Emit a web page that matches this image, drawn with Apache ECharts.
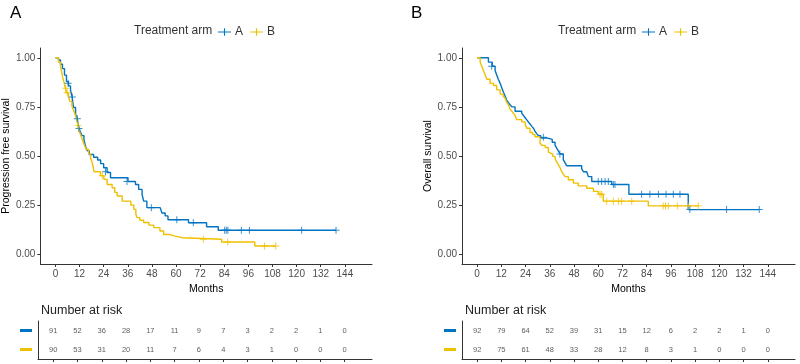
<!DOCTYPE html>
<html>
<head>
<meta charset="utf-8">
<script src="https://cdn.jsdelivr.net/npm/echarts@6/dist/echarts.min.js"></script>
<style>
    html, body { margin: 0; padding: 0; background: #fff; }
    #chart { width: 800px; height: 364px; }
</style>
</head>
<body>
<div id="chart"></div>
<script>
    // 月份刻度
    var monthTicks = [0, 12, 24, 36, 48, 60, 72, 84, 96, 108, 120, 132, 144];
    var survTicks = [0, 0.25, 0.5, 0.75, 1];

    // A: 无进展生存 [月, 生存率]
    var pfsArmA = [[0,1],[1.5,0.989],[2.5,0.967],[3.5,0.945],[4.5,0.912],[5.5,0.879],[6.5,0.857],[7.5,0.835],[8.3,0.80],[9,0.747],[10,0.714],[10.8,0.69],[11.5,0.648],[12.3,0.626],[13.2,0.604],[14.2,0.582],[15,0.549],[15.8,0.527],[16.8,0.508],[19,0.494],[21,0.48],[22.5,0.461],[24,0.44],[25.7,0.416],[27.4,0.389],[34.8,0.389],[36.1,0.37],[39.8,0.355],[41.4,0.33],[43.1,0.305],[43.9,0.27],[45.5,0.237],[52.1,0.237],[53,0.21],[54.6,0.195],[56,0.175],[66.2,0.16],[75.2,0.14],[81,0.122],[139.6,0.122]];
    var pfsArmB = [[0,1],[1.5,0.978],[2.5,0.956],[3,0.933],[3.6,0.9],[4.2,0.878],[5,0.845],[5.5,0.822],[6.5,0.8],[7.2,0.778],[8.2,0.755],[9,0.733],[9.8,0.711],[10.5,0.689],[11.2,0.656],[12,0.622],[12.8,0.6],[13.6,0.578],[14.4,0.556],[15.3,0.533],[16.5,0.511],[17.5,0.489],[18.3,0.467],[19.2,0.42],[22.4,0.40],[24.1,0.381],[25.7,0.355],[28.2,0.338],[29.5,0.315],[30.7,0.296],[33.2,0.27],[37.5,0.25],[39,0.228],[40,0.205],[40.6,0.186],[42,0.173],[43.9,0.161],[46.5,0.148],[48.9,0.135],[52,0.118],[53.8,0.10],[57,0.092],[59.6,0.084],[62.9,0.076],[82.7,0.062],[99.2,0.042],[109.6,0.042]];
    var pfsCensA = [[6.3,0.87],[8.4,0.80],[10.9,0.69],[11.7,0.64],[24.9,0.42],[35.6,0.37],[47.7,0.237],[60.4,0.175],[68.6,0.16],[84.2,0.122],[85,0.122],[85.8,0.122],[92.5,0.122],[96.5,0.122],[122.5,0.122],[139.6,0.122]];
    var pfsCensB = [[5.2,0.845],[5.9,0.822],[11.2,0.656],[23.3,0.40],[73.6,0.076],[85.7,0.062],[104,0.042],[109.6,0.042]];

    // B: 总生存
    var osArmA = [[0,1],[5.6,0.978],[7.5,0.957],[8.9,0.935],[9.7,0.913],[10.5,0.891],[11.4,0.87],[12.2,0.848],[13,0.826],[13.9,0.804],[14.7,0.783],[15.5,0.772],[16.3,0.761],[17.2,0.75],[18.8,0.728],[22.1,0.717],[23,0.706],[23.8,0.695],[24.6,0.684],[25.4,0.673],[26.3,0.662],[27.1,0.651],[28,0.64],[28.7,0.625],[29.5,0.614],[30.4,0.603],[31.5,0.592],[34.5,0.585],[37.2,0.57],[38.6,0.555],[39.4,0.54],[40.3,0.525],[41.1,0.51],[42.7,0.48],[43.6,0.465],[44.4,0.45],[51.8,0.436],[52.6,0.42],[54.3,0.41],[55.1,0.395],[56.8,0.37],[66.7,0.355],[75.2,0.305],[104.6,0.227],[139.8,0.227]];
    var osArmB = [[0,1],[1.5,0.978],[2.3,0.957],[3.1,0.935],[4,0.913],[4.8,0.891],[6.4,0.87],[8.1,0.859],[9.7,0.837],[11.4,0.815],[13,0.804],[13.9,0.793],[14.7,0.772],[15.5,0.761],[16.3,0.739],[17.2,0.728],[18,0.717],[18.8,0.706],[19.6,0.685],[22.1,0.674],[23.8,0.663],[24.6,0.641],[26.2,0.62],[27.5,0.609],[28.7,0.598],[31.2,0.565],[32,0.554],[33.7,0.543],[35.3,0.52],[36.1,0.51],[37.5,0.498],[38.6,0.487],[39.4,0.47],[40.3,0.455],[41.1,0.44],[41.9,0.421],[42.7,0.408],[43.6,0.395],[45.2,0.379],[47.7,0.362],[50.1,0.348],[54.3,0.336],[57.6,0.32],[60.1,0.305],[62.5,0.27],[84.8,0.246],[109.6,0.246]];
    var osCensA = [[7.2,0.957],[32.8,0.596],[41,0.51],[60,0.37],[61.7,0.37],[63.4,0.37],[65,0.37],[67.5,0.355],[68.3,0.355],[81.5,0.305],[85.6,0.305],[89.8,0.305],[93.6,0.305],[97.2,0.305],[100.5,0.305],[105.4,0.227],[123.6,0.227],[139.8,0.227]];
    var osCensB = [[60.9,0.305],[61.7,0.305],[64.2,0.27],[67.5,0.27],[70,0.27],[71.6,0.27],[76.6,0.27],[92.2,0.246],[93.3,0.246],[94.7,0.246],[99.2,0.246],[104.6,0.246],[109.6,0.246]];

    // 风险人数
    var pfsRiskA = [91, 52, 36, 28, 17, 11, 9, 7, 3, 2, 2, 1, 0];
    var pfsRiskB = [90, 53, 31, 20, 11, 7, 6, 4, 3, 1, 0, 0, 0];
    var osRiskA = [92, 79, 64, 52, 39, 31, 15, 12, 6, 2, 2, 1, 0];
    var osRiskB = [92, 75, 61, 48, 33, 28, 12, 8, 3, 1, 0, 0, 0];

    var colorA = '#0073C2';
    var colorB = '#EFC000';
    var font = 'Liberation Sans, Arial, sans-serif';
    var plusPath = 'path://M0,4.3 L10,4.3 L10,5.7 L0,5.7 Z M4.3,0 L5.7,0 L5.7,10 L4.3,10 Z';
    var legendPath = 'path://M0,4.4 L14,4.4 L14,5.6 L0,5.6 Z M6.4,1 L7.6,1 L7.6,9 L6.4,9 Z';

    var myChart = echarts.init(document.getElementById('chart'));

    function plotX(gridIndex, showLabel) {
        return {
            type: 'value', gridIndex: gridIndex, min: -7.5, max: 157.5,
            name: showLabel ? 'Months' : '', nameLocation: 'middle', nameGap: 18,
            nameTextStyle: { color: '#000', fontSize: 10.5, fontFamily: font },
            axisLine: { show: true, onZero: false, lineStyle: { color: '#333', width: 1 } },
            axisTick: { show: true, length: 3, customValues: monthTicks, lineStyle: { color: '#333' } },
            axisLabel: { show: showLabel, customValues: monthTicks, margin: 5, color: '#4d4d4d', fontSize: 10, fontFamily: font },
            splitLine: { show: false }
        };
    }

    function plotY(gridIndex, name) {
        return {
            type: 'value', gridIndex: gridIndex, min: -0.05, max: 1.05,
            name: name, nameLocation: 'middle', nameGap: 26,
            nameTextStyle: { color: '#000', fontSize: 10.5, fontFamily: font },
            axisLine: { show: true, onZero: false, lineStyle: { color: '#333', width: 1 } },
            axisTick: { show: true, length: 3, customValues: survTicks, lineStyle: { color: '#333' } },
            axisLabel: {
                customValues: survTicks, margin: 5, color: '#4d4d4d', fontSize: 10, fontFamily: font,
                formatter: function(v) { return v.toFixed(2); }
            },
            splitLine: { show: false }
        };
    }

    function riskY(gridIndex) {
        return {
            type: 'category', gridIndex: gridIndex, data: ['A', 'B'], inverse: true,
            axisLine: { show: true, onZero: false, lineStyle: { color: '#333', width: 1 } },
            axisTick: { show: false },
            axisLabel: {
                margin: 6,
                formatter: function(v) { return v === 'A' ? '{a|}' : '{b|}'; },
                rich: {
                    a: { backgroundColor: colorA, width: 12, height: 3 },
                    b: { backgroundColor: colorB, width: 12, height: 3 }
                }
            }
        };
    }

    function riskData(counts, row) {
        return counts.map(function(c, i) { return [monthTicks[i], row, c]; });
    }

    function curve(name, data, color, xi, yi) {
        return {
            name: name, type: 'line', step: 'end', data: data, xAxisIndex: xi, yAxisIndex: yi,
            showSymbol: false, color: color, lineStyle: { width: 1.4, color: color }, z: 3
        };
    }

    function censor(data, color, xi, yi) {
        return {
            name: 'censor', type: 'scatter', data: data, xAxisIndex: xi, yAxisIndex: yi,
            symbol: plusPath, symbolSize: 7, itemStyle: { color: color }, z: 4
        };
    }

    function riskSeries(counts, row, xi, yi) {
        return {
            name: 'risk', type: 'scatter', data: riskData(counts, row), xAxisIndex: xi, yAxisIndex: yi,
            symbolSize: 1, itemStyle: { color: 'transparent' },
            label: {
                show: true, position: 'inside', color: '#333', fontSize: 7.5, fontFamily: font,
                formatter: function(p) { return p.value[2]; }
            }
        };
    }

    var legendBase = {
        data: ['A', 'B'], top: 21, icon: legendPath, itemWidth: 13, itemHeight: 8, itemGap: 7,
        textStyle: { color: '#333', fontSize: 12, fontFamily: font, padding: [0, 0, 0, -1] },
        selectedMode: false
    };

    var option = {
        animation: false,
        textStyle: { fontFamily: font },
        title: [
            { text: 'A', left: 5, top: 0, textStyle: { fontSize: 17, fontWeight: 'normal', color: '#000', fontFamily: font } },
            { text: 'B', left: 406, top: 0, textStyle: { fontSize: 17, fontWeight: 'normal', color: '#000', fontFamily: font } },
            { text: 'Treatment arm', left: 129, top: 20, textStyle: { fontSize: 12, fontWeight: 'normal', color: '#333', fontFamily: font } },
            { text: 'Treatment arm', left: 553, top: 20, textStyle: { fontSize: 12, fontWeight: 'normal', color: '#333', fontFamily: font } },
            { text: 'Number at risk', left: 36, top: 299, textStyle: { fontSize: 12.5, fontWeight: 'normal', color: '#222', fontFamily: font } },
            { text: 'Number at risk', left: 460, top: 299, textStyle: { fontSize: 12.5, fontWeight: 'normal', color: '#222', fontFamily: font } }
        ],
        legend: [
            Object.assign({}, legendBase, { left: 213 }),
            Object.assign({}, legendBase, { left: 637 })
        ],
        grid: [
            { left: 38, top: 48, width: 334, height: 216 },
            { left: 38, top: 321, width: 334, height: 38 },
            { left: 462, top: 48, width: 333, height: 216 },
            { left: 462, top: 321, width: 333, height: 38 }
        ],
        xAxis: [plotX(0, true), plotX(1, false), plotX(2, true), plotX(3, false)],
        yAxis: [plotY(0, 'Progression free survival'), riskY(1), plotY(2, 'Overall survival'), riskY(3)],
        series: [
            curve('A', pfsArmA, colorA, 0, 0),
            curve('B', pfsArmB, colorB, 0, 0),
            censor(pfsCensA, colorA, 0, 0),
            censor(pfsCensB, colorB, 0, 0),
            riskSeries(pfsRiskA, 0, 1, 1),
            riskSeries(pfsRiskB, 1, 1, 1),
            curve('A', osArmA, colorA, 2, 2),
            curve('B', osArmB, colorB, 2, 2),
            censor(osCensA, colorA, 2, 2),
            censor(osCensB, colorB, 2, 2),
            riskSeries(osRiskA, 0, 3, 3),
            riskSeries(osRiskB, 1, 3, 3)
        ]
    };
    myChart.setOption(option);

    window.onresize = function() {
        myChart.resize();
    };
</script>
</body>
</html>
